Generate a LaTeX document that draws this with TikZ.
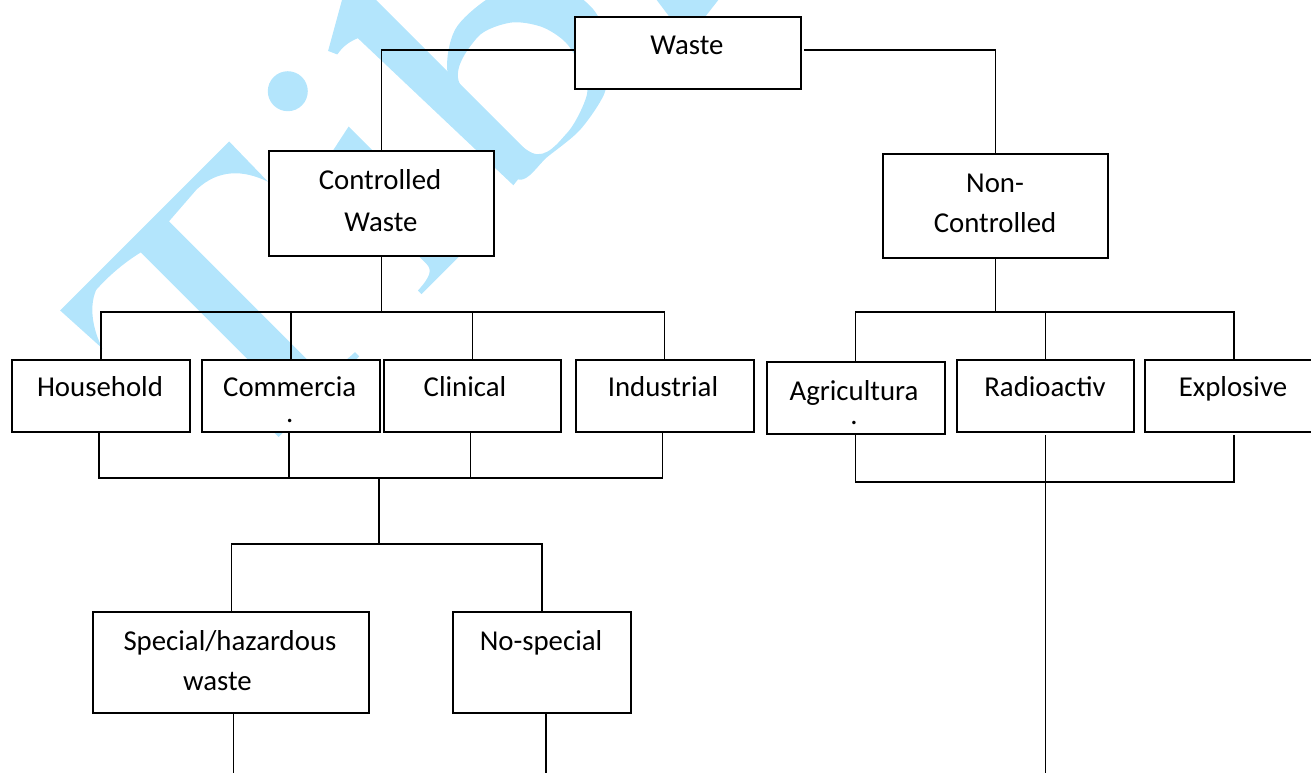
\documentclass[tikz,border=0pt]{standalone}
\usepackage{fontspec}
\setmainfont{Carlito}
\definecolor{wmblue}{RGB}{179,229,252}
\begin{document}
\begin{tikzpicture}[x=1pt,y=-1pt,
  box/.style={draw=black, line width=2pt, fill=white, inner sep=0pt, anchor=north west},
  txt/.style={anchor=base, inner sep=0pt, font=\fontsize{28.8}{34}\selectfont},
  conn/.style={line width=1.8pt, line cap=rect},
  wmark/.style={fill=wmblue, draw=none}]
\useasboundingbox (0,0) rectangle (1311,773);
\clip (0,0) rectangle (1311,773);
% ---------- watermark (rotated letters, drawn in letter frame: (along, down))
\begin{scope}[x={(0.70711pt,0.70711pt)}, y={(0.70711pt,-0.70711pt)}]
  % T
  \fill[wmark] (-177,262) -- (62,262) -- (61,318)
     .. controls (52,292) and (35,274) .. (5,273) -- (-37,276) -- (-37,486)
     .. controls (-36,496) and (-22,499) .. (2,500) -- (2,506) -- (-112,506) -- (-112,500)
     .. controls (-90,499) and (-80,496) .. (-79,486) -- (-79,278)
     .. controls (-100,273) and (-120,272) .. (-137,273)
     .. controls (-155,280) and (-168,300) .. (-174,319) -- cycle;
  % i
  \fill[wmark] (139,268) circle[radius=20];
  \fill[wmark] (157,336) -- (157,488) .. controls (158,497) and (170,500) .. (188,501)
     -- (188,506) -- (90,506) -- (90,501) .. controls (108,500) and (115,497) .. (115,488)
     -- (115,362) .. controls (114,354) and (108,352) .. (100,352) -- (100,348) -- cycle;
  % b
  \fill[wmark] (196,268) -- (266,228) -- (266,490) -- (232,494) -- (226,280)
     .. controls (214,275) and (206,276) .. (200,277) -- cycle;
  \fill[wmark, even odd rule]
     plot[smooth cycle] coordinates {(262,372) (300,343) (346,344) (385,360) (408,390) (413,425) (404,452) (382,477) (360,494) (318,502) (276,498) (240,494) (238,440)}
     plot[smooth cycle] coordinates {(266,384) (311,364) (345,377) (364,402) (370,430) (363,460) (348,482) (307,495) (268,484)};
\end{scope}
\fill[wmark] (656.7,0) -- (718.3,0) -- (687,40) -- cycle;
% ---------- boxes
\node[box, minimum width=226pt, minimum height=72pt] (wst) at (574,16) {};
\node[box, minimum width=225pt, minimum height=105pt] (ctl) at (268,150) {};
\node[box, minimum width=225pt, minimum height=104pt] (nct) at (882,153) {};
\node[box, minimum width=178.6pt, minimum height=72pt] (hh) at (10.7,359) {};
\node[box, minimum width=177.6pt, minimum height=72pt] (cm) at (201,359) {};
\node[box, minimum width=177.6pt, minimum height=72pt] (cl) at (382.6,359) {};
\node[box, minimum width=178pt, minimum height=72.5pt] (ind) at (574.5,358.5) {};
\node[box, minimum width=178pt, minimum height=72pt] (ag) at (765.5,360.7) {};
\node[box, minimum width=177.8pt, minimum height=72.3pt] (rad) at (955.6,358.7) {};
\node[box, minimum width=178pt, minimum height=72.3pt] (exb) at (1144,358.7) {};
\node[box, minimum width=276pt, minimum height=101.6pt] (sp) at (92.4,610.7) {};
\node[box, minimum width=178pt, minimum height=101.6pt] (ns) at (452,610.7) {};
% ---------- texts
\node[txt] (t1) at (687,55) {Waste};
\node[txt] (t2) at (380,189.5) {Controlled};
\node[txt] (t3) at (381,231) {Waste};
\node[txt] (t4) at (995,192.7) {Non-};
\node[txt] (t5) at (995,232.7) {Controlled};
\node[txt] (t6) at (100,396.7) {Household};
\node[txt] (t7) at (289.7,396.7) {Commercia};
\node[txt] (t7b) at (289.7,422) {.};
\node[txt] (t8) at (465,396.7) {Clinical};
\node[txt] (t9) at (663,396.7) {Industrial};
\node[txt] (t10) at (854,400) {Agricultura};
\node[txt] (t10b) at (854,424) {.};
\node[txt] (t11) at (1045,396.7) {Radioactiv};
\node[txt] (t12) at (1233,396.7) {Explosive};
\node[txt] (t13) at (230,650) {Special/hazardous};
\node[txt] (t14) at (217.4,690.7) {waste};
\node[txt] (t15) at (541,650) {No-special};
% ---------- bus coordinates
\coordinate (b1) at (379,312);
\coordinate (b2) at (379,477.7);
\coordinate (b3) at (379,544.3);
\coordinate (b4) at (993,312);
\coordinate (b5) at (993,481.7);
\coordinate (bot) at (0,775);
% ---------- connectors from Waste
\draw[conn] ([yshift=3pt]wst.west) -| (ctl.north);
\draw[conn] ([xshift=3pt,yshift=3pt]wst.east) -| (nct.north);
% ---------- controlled branch
\draw[conn] (ctl.south) -- (ctl.south |- b1);
\draw[conn] (b1 -| hh.north) -- (b1 -| ind.north);
\foreach \n in {hh,cm,cl,ind} \draw[conn] (b1 -| \n.north) -- (\n.north);
\coordinate (hhs) at ([xshift=-2pt]hh.south);
\coordinate (cms) at ([xshift=-2pt]cm.south);
\coordinate (cls) at ([xshift=-2pt]cl.south);
\coordinate (inds) at ([xshift=-2pt]ind.south);
\foreach \n in {hhs,cms,cls,inds} \draw[conn] (\n) -- (b2 -| \n);
\draw[conn] (b2 -| hhs) -- (b2 -| inds);
\draw[conn] (b2) -- (b3);
\draw[conn] (b3 -| sp.north) -- (b3 -| ns.north);
\draw[conn] (b3 -| sp.north) -- (sp.north);
\draw[conn] (b3 -| ns.north) -- (ns.north);
\coordinate (sps) at ([xshift=2pt]sp.south);
\coordinate (nss) at ([xshift=4pt]ns.south);
\draw[conn] (sps) -- (bot -| sps);
\draw[conn] (nss) -- (bot -| nss);
% ---------- non-controlled branch
\draw[conn] (nct.south) -- (nct.south |- b4);
\draw[conn] (b4 -| ag.north) -- (b4 -| exb.north);
\foreach \n in {ag,rad,exb} \draw[conn] (b4 -| \n.north) -- (\n.north);
\coordinate (ags) at (ag.south);
\coordinate (rads) at ([yshift=-3pt]rad.south);
\coordinate (exs) at ([yshift=-3pt]exb.south);
\draw[conn] (ags) -- (b5 -| ags);
\draw[conn] (exs) -- (b5 -| exs);
\draw[conn] (b5 -| ags) -- (b5 -| exs);
\draw[conn] (rads) -- (bot -| rads);
\end{tikzpicture}
\end{document}
